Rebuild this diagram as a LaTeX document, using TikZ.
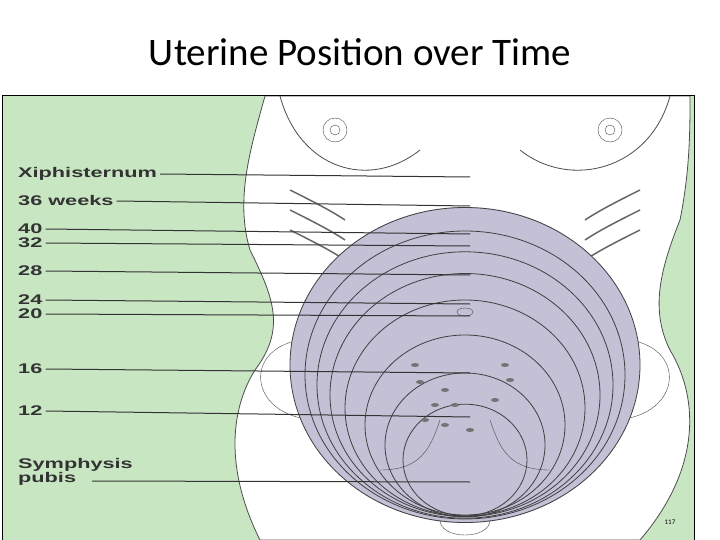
\documentclass[tikz,border=0pt]{standalone}
\usepackage{fontspec}
\setmainfont{Carlito}
\newfontfamily\lab{Liberation Sans}
\definecolor{bg}{HTML}{C9E6C3}
\definecolor{utc}{HTML}{C4C0D6}
\newcommand{\wl}[1]{\scalebox{1.55}[1]{#1}}
\begin{document}
\begin{tikzpicture}[x=1pt,y=-1pt,
 lbl/.style={anchor=west,font=\lab\bfseries\fontsize{14}{13}\selectfont,inner sep=0pt,text=black!80},
 lvl/.style={line width=1pt,black!80},
 ut/.style={draw=black!75,line width=0.8pt}]
\useasboundingbox (0,0) rectangle (720,540);
\fill[white] (0,0) rectangle (720,540);
\node (title) at (360,52) {\fontsize{39}{41}\selectfont Uterine Position over Time};
\fill[bg] (2,96) rectangle (694,540);
\fill[white,draw=black!70,line width=0.8pt] (265,96) .. controls (250,150) and (235,200) .. (250,250)
  .. controls (275,300) and (285,330) .. (255,370) .. controls (230,410) and (225,470) .. (260,540)
  -- (640,540) .. controls (700,470) and (700,400) .. (670,350)
  .. controls (650,310) and (660,270) .. (680,220) .. controls (690,170) and (690,130) .. (690,96) -- cycle;
\draw[black!70,line width=0.8pt] (280,96) .. controls (300,170) and (370,190) .. (420,150);
\draw[black!70,line width=0.8pt] (520,150) .. controls (570,190) and (650,170) .. (670,96);
\draw[black!70] (335,130) circle (12) circle (5);
\draw[black!70] (610,130) circle (12) circle (5);
\foreach \y in {190,210,230} {
 \draw[black!60,line width=1.5pt] (290,\y) .. controls (310,\y+10) and (330,\y+20) .. (345,\y+30);
 \draw[black!60,line width=1.5pt] (640,\y) .. controls (620,\y+10) and (600,\y+20) .. (585,\y+30);}
\draw[black!70] (300,340) .. controls (240,350) and (250,420) .. (320,420);
\draw[black!70] (630,340) .. controls (690,350) and (680,420) .. (610,420);
\fill[utc] (465,365) ellipse (175 and 158);
\foreach \r/\c in {175/365,160/375,148/385,135/395,120/408,100/425,80/445,62/460} {
  \draw[ut] (465,\c) ellipse ({\r} and {\r*0.9});}
\draw[black!70] (440,420) .. controls (430,450) and (420,470) .. (380,470);
\draw[black!70] (490,420) .. controls (500,450) and (510,470) .. (550,470);
\draw[black!70] (465,312) ellipse (8 and 4);
\foreach \p in {(415,365),(505,365),(420,382),(510,380),(445,390),(435,405),(455,405),(495,400),(425,420),(470,430),(445,425)}
  \fill[black!55] \p ellipse (4 and 2);
\draw[black!70] (440,520) .. controls (440,540) and (490,540) .. (490,520);
\node[lbl] (xi) at (18,174) {\wl{Xiphisternum}};
\node[lbl] (w36) at (18,201) {\wl{36 weeks}};
\node[lbl] (w40) at (18,229) {\wl{40}};
\node[lbl] (w32) at (18,243) {\wl{32}};
\node[lbl] (w28) at (18,271) {\wl{28}};
\node[lbl] (w24) at (18,300) {\wl{24}};
\node[lbl] (w20) at (18,314) {\wl{20}};
\node[lbl] (w16) at (18,369) {\wl{16}};
\node[lbl] (w12) at (18,411) {\wl{12}};
\node[lbl,align=left] (sp) at (18,472) {\wl{Symphysis}\\\wl{pubis}};
\coordinate (exi) at (470,177); \coordinate (e36) at (470,206);
\coordinate (e40) at (470,234); \coordinate (e32) at (470,246);
\coordinate (e28) at (470,275); \coordinate (e24) at (470,304);
\coordinate (e20) at (470,316); \coordinate (e16) at (470,373);
\coordinate (e12) at (470,417); \coordinate (esp) at (470,482);
\draw[lvl] ([xshift=3pt]xi.east) -- (exi); \draw[lvl] ([xshift=3pt]w36.east) -- (e36);
\draw[lvl] ([xshift=3pt]w40.east) -- (e40); \draw[lvl] ([xshift=3pt]w32.east) -- (e32);
\draw[lvl] ([xshift=3pt]w28.east) -- (e28); \draw[lvl] ([xshift=3pt]w24.east) -- (e24);
\draw[lvl] ([xshift=3pt]w20.east) -- (e20); \draw[lvl] ([xshift=3pt]w16.east) -- (e16);
\draw[lvl] ([xshift=3pt]w12.east) -- (e12);
\coordinate (spl) at (92,481); \draw[lvl] (spl) -- (esp);
\draw[black,line width=1pt] (2,96) rectangle (694,540);
\node (pg) at (670,522) {\fontsize{7}{7}\selectfont 117};
\end{tikzpicture}
\end{document}
